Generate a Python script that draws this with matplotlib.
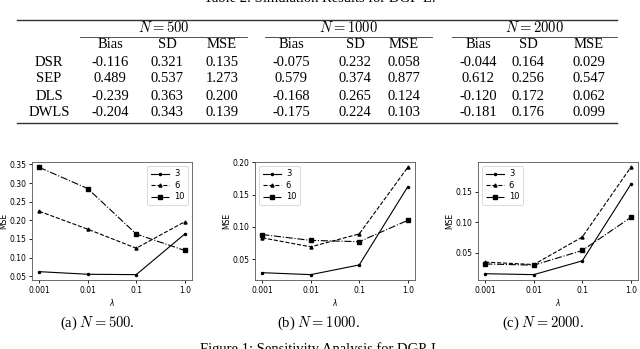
import matplotlib
matplotlib.use("Agg")
import matplotlib.pyplot as plt
from matplotlib.lines import Line2D

plt.rcParams["mathtext.fontset"] = "cm"

# ---- table data ----
table_title = "Table 2: Simulation Results for DGP-L."
methods = ["DSR", "SEP", "DLS", "DWLS"]
sample_sizes = [500, 1000, 2000]
stat_names = ["Bias", "SD", "MSE"]
res_500 = [["-0.116", "0.321", "0.135"],
           ["0.489", "0.537", "1.273"],
           ["-0.239", "0.363", "0.200"],
           ["-0.204", "0.343", "0.139"]]
res_1000 = [["-0.075", "0.232", "0.058"],
            ["0.579", "0.374", "0.877"],
            ["-0.168", "0.265", "0.124"],
            ["-0.175", "0.224", "0.103"]]
res_2000 = [["-0.044", "0.164", "0.029"],
            ["0.612", "0.256", "0.547"],
            ["-0.120", "0.172", "0.062"],
            ["-0.181", "0.176", "0.099"]]

# ---- sensitivity data ----
lambdas = ["0.001", "0.01", "0.1", "1.0"]
series_names = ["3", "6", "10"]
mse_500 = {"3": [0.062, 0.055, 0.054, 0.163],
           "6": [0.224, 0.176, 0.125, 0.196],
           "10": [0.342, 0.285, 0.163, 0.119]}
mse_1000 = {"3": [0.029, 0.026, 0.041, 0.162],
            "6": [0.083, 0.069, 0.089, 0.192],
            "10": [0.088, 0.079, 0.077, 0.110]}
mse_2000 = {"3": [0.016, 0.0145, 0.037, 0.162],
            "6": [0.035, 0.031, 0.076, 0.190],
            "10": [0.032, 0.030, 0.054, 0.108]}
captions = ["(a) $N = 500$.", "(b) $N = 1000$.", "(c) $N = 2000$."]
fig_caption = "Figure 1: Sensitivity Analysis for DGP-L"

W, H = 640, 349
SERIF = "Liberation Serif"
styles = {"3": dict(ls="-", marker=".", ms=3),
          "6": dict(ls="--", marker="^", ms=2.2),
          "10": dict(ls="-.", marker="s", ms=2.2)}


def px_axes(fig, left, top, right, bottom):
    return fig.add_axes([left / W, 1 - bottom / H, (right - left) / W, (bottom - top) / H])


fig = plt.figure(figsize=(W / 100, H / 100), dpi=100)

# overlay in pixel coordinates for the table and captions
ov = fig.add_axes([0, 0, 1, 1])
ov.set_xlim(0, W)
ov.set_ylim(H, 0)
ov.axis("off")

ov.text(320, 5, table_title, family=SERIF, fontsize=10.5, ha="center", va="bottom")

rule_col = "#333333"
ov.add_line(Line2D([17, 617], [20, 20], color=rule_col, lw=1.0))
ov.add_line(Line2D([17, 617], [123, 123], color=rule_col, lw=1.0))

group_spans = [(80, 247), (265, 432), (452, 617)]
col_x = [[110, 167, 222], [291, 355, 404], [478, 528, 589]]
row_y = [62, 79, 96, 113]
all_res = [res_500, res_1000, res_2000]

for g, n in enumerate(sample_sizes):
    x0, x1 = group_spans[g]
    ov.add_line(Line2D([x0, x1], [37, 37], color=rule_col, lw=0.6))
    ov.text((x0 + x1) / 2, 28, f"$N = {n}$", fontsize=10.5, ha="center", va="center")
    for j, s in enumerate(stat_names):
        ov.text(col_x[g][j], 44.5, s, family=SERIF, fontsize=10.5, ha="center", va="center")
    for i, row in enumerate(all_res[g]):
        for j, v in enumerate(row):
            ov.text(col_x[g][j], row_y[i], v, family=SERIF, fontsize=10.5,
                    ha="center", va="center")

for i, m in enumerate(methods):
    ov.text(49, row_y[i], m, family=SERIF, fontsize=10.5, ha="center", va="center")

# ---- plots ----
panels = [(mse_500, 32, "upper right"), (mse_1000, 255, "upper left"), (mse_2000, 478, "upper left")]
xs = list(range(len(lambdas)))
cap_x = [97, 318, 543]
for k, (data, left, loc) in enumerate(panels):
    ax = px_axes(fig, left, 162, left + 160, 280)
    for name in series_names:
        ax.plot(xs, data[name], color="black", lw=0.8, label=name, **styles[name])
    ax.set_xticks(xs)
    ax.set_xticklabels(lambdas)
    ax.tick_params(labelsize=5.5, length=2.5, width=0.6, pad=1.5)
    ax.set_ylabel("MSE", fontsize=5.5, labelpad=0.8)
    ax.set_xlabel(r"$\lambda$", fontsize=5.5, labelpad=1.5, math_fontfamily="dejavusans")
    for sp in ax.spines.values():
        sp.set_linewidth(0.6)
        sp.set_color("#555555")
    leg = ax.legend(loc=loc, fontsize=6, handlelength=2.2, borderpad=0.4,
                    labelspacing=0.3, handletextpad=0.6, framealpha=1)
    leg.get_frame().set_linewidth(0.5)
    ov.text(cap_x[k], 323, captions[k], family=SERIF, fontsize=10.5, ha="center", va="center")

ov.text(320, 342, fig_caption, family=SERIF, fontsize=10.5, ha="center", va="top")

fig.savefig("out.png", dpi=100)
